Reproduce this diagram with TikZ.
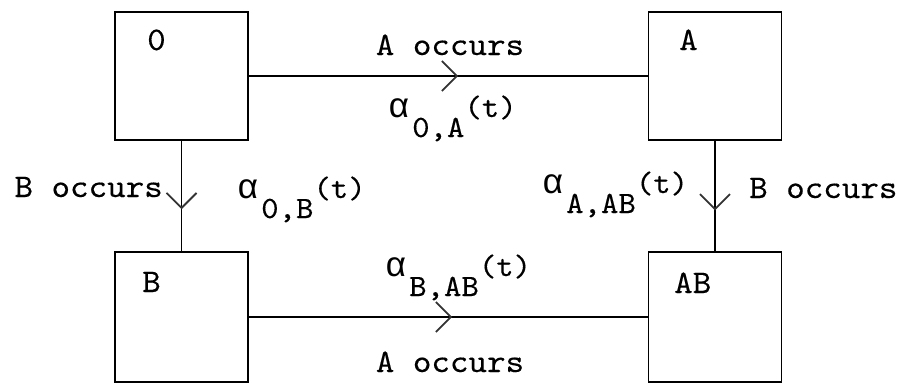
\documentclass[tikz,border=0pt]{standalone}
\usepackage{fontspec}
\setmainfont[FakeStretch=1.07,FakeBold=0.25]{lmmono10-regular.otf}
\newfontfamily\grk{Liberation Mono}
\usetikzlibrary{arrows.meta,decorations.markings}
\newcommand{\alphaglyph}{{\grk\fontsize{35}{35}\selectfont α}}
\begin{document}
\begin{tikzpicture}[x=1pt,y=-1pt,
  statebox/.style={draw=black,line width=1.6pt,minimum width=133pt,minimum height=128pt,inner sep=0pt},
  txt/.style={font=\fontsize{33}{38}\selectfont,inner sep=0pt},
  lab/.style={font=\fontsize{31}{36}\selectfont,inner sep=0pt,anchor=base west},
  conn/.style={line width=1.3pt},
  midarrow/.style={postaction={decorate},decoration={markings,mark=at position #1 with {\arrow[black!80,line width=1.8pt]{Straight Barb[length=15pt,width=30pt]}}}}
]
\useasboundingbox (0,0) rectangle (904,383);
\node[statebox] (s0) at (181.5,76) {};
\node[statebox] (sA) at (715,76) {};
\node[statebox,minimum height=130pt] (sB) at (181.5,317) {};
\node[statebox,minimum height=130pt] (sAB) at (715,317) {};

\node[txt,anchor=base west] (l0) at (147,50) {0};
\node[txt,anchor=base west] (lA) at (679,50) {A};
\node[txt,anchor=base west] (lB) at (142,292) {B};
\node[txt,anchor=base west] (lAB) at (674,293) {AB};

\draw[conn,midarrow=0.525] (s0.east) -- (sA.west);
\draw[conn,midarrow=0.51] (sB.east) -- (sAB.west);
\draw[conn,midarrow=0.62] (s0.south) -- (sB.north);
\draw[conn,midarrow=0.63] (sA.south) -- (sAB.north);

\node[txt,anchor=base] (tAo) at (450,55) {A occurs};
\node[txt,anchor=base] (tAo2) at (450,372) {A occurs};
\node[txt,anchor=base east] (tBo) at (163,197) {B occurs};
\node[txt,anchor=base west] (tBo2) at (749,198) {B occurs};

\node[lab] (a0A) at (388,117) {\alphaglyph\hspace{3pt}\raisebox{-20pt}{0,A}(t)};
\node[lab] (a0B) at (237,198) {\alphaglyph\hspace{3pt}\raisebox{-20pt}{0,B}(t)};
\node[lab] (aBAB) at (385,276) {\alphaglyph\hspace{3pt}\raisebox{-20pt}{B,AB}(t)};
\node[lab] (aAAB) at (542,193) {\alphaglyph\hspace{3pt}\raisebox{-20pt}{A,AB}(t)};
\end{tikzpicture}
\end{document}
